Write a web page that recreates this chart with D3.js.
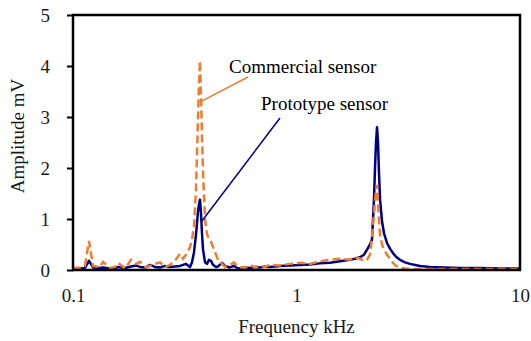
<!DOCTYPE html>
<html>
<head>
<meta charset="utf-8">
<script src="https://cdn.jsdelivr.net/npm/d3@7"></script>
<style>
  html, body { margin: 0; padding: 0; background: #fff; }
  svg { display: block; }
  text { font-family: 'Liberation Serif', 'Times New Roman', serif; }
</style>
</head>
<body>
<div id="chart"></div>
<script>
// frequency grid (kHz)
const freqs = [
  0.100, 0.1075, 0.1131, 0.1179, 0.1229, 0.1321, 0.1362, 0.1464, 0.1541, 0.1590,
  0.1709, 0.1818, 0.1914, 0.1994, 0.2121, 0.2211, 0.2327, 0.2451, 0.2580, 0.2716,
  0.2860, 0.3011, 0.3106, 0.3203, 0.3339, 0.3408, 0.3479, 0.3552, 0.3626, 0.3664,
  0.3701, 0.3740, 0.3779, 0.3818, 0.3897, 0.3978, 0.4060, 0.4145, 0.4231, 0.4365,
  0.4456, 0.4642, 0.4787, 0.5040, 0.5253, 0.5475, 0.5884, 0.6194, 0.6521, 0.6866,
  0.7229, 0.7608, 0.8437, 0.9352, 1.0368, 1.1492, 1.2737, 1.4125, 1.5654, 1.7355,
  1.8270, 1.9236, 2.0045, 2.0674, 2.1327, 2.1770, 2.2225, 2.2453, 2.2686, 2.2923,
  2.3162, 2.3397, 2.3640, 2.4134, 2.4634, 2.5406, 2.6202, 2.7027, 2.7876, 2.9049,
  3.0586, 3.2197, 3.5699, 3.9565, 4.6162, 5.3891, 6.6222, 8.1376, 10.0
];

// amplitude, mV
const commercial = [
  0.04, 0.05, 0.08, 0.57, 0.08, 0.06, 0.16, 0.04, 0.06, 0.14,
  0.03, 0.20, 0.12, 0.16, 0.05, 0.08, 0.12, 0.15, 0.06, 0.10,
  0.18, 0.32, 0.22, 0.30, 0.45, 0.60, 0.85, 1.60, 3.00, 3.70,
  4.10, 3.40, 2.60, 1.90, 1.00, 0.70, 0.60, 0.55, 0.45, 0.30,
  0.20, 0.12, 0.06, 0.10, 0.15, 0.06, 0.04, 0.10, 0.05, 0.09,
  0.06, 0.10, 0.09, 0.12, 0.14, 0.12, 0.17, 0.20, 0.22, 0.20,
  0.25, 0.22, 0.18, 0.20, 0.30, 0.65, 1.10, 1.35, 1.55, 1.67,
  1.30, 0.95, 0.70, 0.50, 0.40, 0.30, 0.22, 0.14, 0.08, 0.05,
  0.03, 0.02, 0.02, 0.02, 0.02, 0.02, 0.02, 0.02, 0.02
];

const prototype = [
  0.02, 0.03, 0.04, 0.18, 0.05, 0.04, 0.05, 0.03, 0.04, 0.06,
  0.04, 0.07, 0.09, 0.06, 0.05, 0.10, 0.06, 0.05, 0.08, 0.06,
  0.07, 0.08, 0.10, 0.12, 0.06, 0.15, 0.35, 0.70, 1.15, 1.30,
  1.38, 1.10, 0.70, 0.40, 0.15, 0.12, 0.20, 0.18, 0.10, 0.06,
  0.07, 0.14, 0.08, 0.05, 0.08, 0.03, 0.05, 0.04, 0.06, 0.05,
  0.07, 0.06, 0.08, 0.09, 0.10, 0.11, 0.13, 0.14, 0.17, 0.20,
  0.22, 0.25, 0.30, 0.40, 0.50, 0.60, 1.40, 2.00, 2.50, 2.80,
  2.50, 1.90, 1.40, 0.95, 0.72, 0.53, 0.42, 0.33, 0.26, 0.20,
  0.15, 0.12, 0.08, 0.06, 0.05, 0.04, 0.04, 0.03, 0.03
];

const xTicks = [0.1, 1, 10];
const yTicks = [0, 1, 2, 3, 4, 5];

const W = 531, H = 341;
const m = { top: 15, right: 11, bottom: 71, left: 73 };
const FONT = "'Liberation Serif', 'Times New Roman', serif";
const FS = 19;

const svg = d3.select('#chart').append('svg')
  .attr('width', W).attr('height', H);

const x = d3.scaleLog().domain([0.1, 10]).range([m.left, W - m.right]);
const y = d3.scaleLinear().domain([0, 5]).range([H - m.bottom, m.top]);

// y axis
svg.append('g')
  .attr('transform', `translate(${m.left},0)`)
  .attr('font-family', FONT)
  .call(d3.axisLeft(y).tickValues(yTicks).tickSize(6).tickPadding(17).tickFormat(d3.format('d')))
  .call(g => g.select('.domain').remove())
  .call(g => g.selectAll('line').attr('stroke', '#000').attr('stroke-width', 2))
  .call(g => g.selectAll('text').attr('font-size', FS).attr('fill', '#1a1a1a'));

// x axis
svg.append('g')
  .attr('transform', `translate(0,${H - m.bottom})`)
  .attr('font-family', FONT)
  .call(d3.axisBottom(x).tickValues(xTicks).tickSize(0).tickPadding(19).tickFormat(d => String(d)))
  .call(g => g.select('.domain').remove())
  .call(g => g.selectAll('text').attr('font-size', FS).attr('fill', '#1a1a1a'));

const line = d3.line().x(d => x(d[0])).y(d => y(d[1]));

svg.append('path')
  .datum(freqs.map((f, i) => [f, prototype[i]]))
  .attr('d', line)
  .attr('fill', 'none')
  .attr('stroke', '#000080')
  .attr('stroke-width', 2.5)
  .attr('stroke-linejoin', 'round');

svg.append('path')
  .datum(freqs.map((f, i) => [f, commercial[i]]))
  .attr('d', line)
  .attr('fill', 'none')
  .attr('stroke', '#ED7D31')
  .attr('stroke-width', 2.5)
  .attr('stroke-dasharray', '8,4');

// frame
svg.append('rect')
  .attr('x', m.left).attr('y', m.top)
  .attr('width', W - m.left - m.right).attr('height', H - m.top - m.bottom)
  .attr('fill', 'none').attr('stroke', '#000').attr('stroke-width', 2.5);

// annotations
svg.append('line')
  .attr('x1', x(0.3730)).attr('y1', y(3.3))
  .attr('x2', 248).attr('y2', 77)
  .attr('stroke', '#ED7D31').attr('stroke-width', 1.5);
svg.append('text')
  .attr('x', 229).attr('y', 73)
  .attr('font-family', FONT)
  .attr('font-size', FS).attr('fill', '#000')
  .text('Commercial sensor');

svg.append('line')
  .attr('x1', x(0.3760)).attr('y1', y(0.95))
  .attr('x2', 280).attr('y2', 118)
  .attr('stroke', '#000080').attr('stroke-width', 1.5);
svg.append('text')
  .attr('x', 261).attr('y', 110)
  .attr('font-family', FONT)
  .attr('font-size', FS).attr('fill', '#000')
  .text('Prototype sensor');

// axis titles
svg.append('text')
  .attr('x', (m.left + W - m.right) / 2).attr('y', 333)
  .attr('text-anchor', 'middle')
  .attr('font-family', FONT)
  .attr('font-size', FS).attr('fill', '#1a1a1a')
  .text('Frequency kHz');

svg.append('text')
  .attr('transform', `translate(24,136) rotate(-90)`)
  .attr('text-anchor', 'middle')
  .attr('font-family', FONT)
  .attr('font-size', FS).attr('fill', '#1a1a1a')
  .text('Amplitude mV');
</script>
</body>
</html>
